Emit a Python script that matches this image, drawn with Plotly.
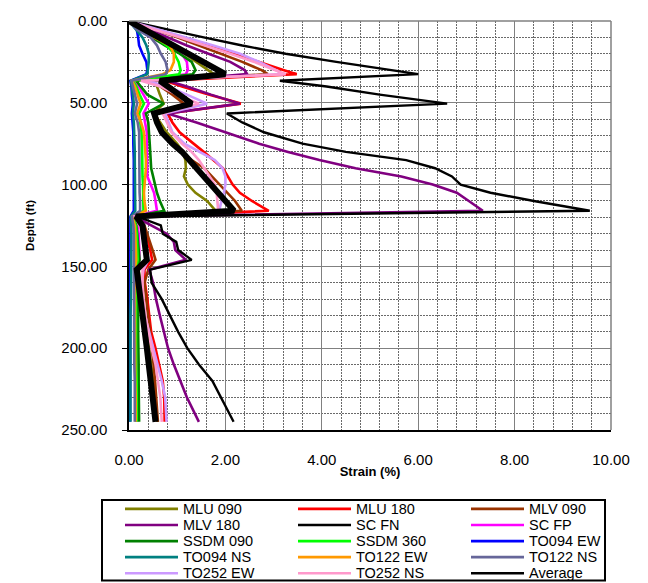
import plotly.graph_objects as go

# Depth below ground surface (ft) at which strain was reported
depth_ft = [0, 5, 10, 15, 20, 25, 30, 32.5,
            36.5, 40, 45, 50.5,
            56.5, 62, 68, 75, 80, 85, 90, 95, 100, 105, 110, 116,
            119.5, 125, 130, 135, 140, 146, 152,
            160, 170, 180, 190, 200, 210, 220, 230, 245]

# Maximum shear strain (%) per ground motion
mlu_090 = [0, 0.3, 0.6, 0.9, 1.15, 1.4, 1.65, 1.76,
           0.48, 0.58, 0.64, 0.72,
           0.5, 0.65, 0.78, 1.0, 1.12, 1.17, 1.18, 1.14, 1.22, 1.38, 1.62, 1.8,
           0.12, 0.25, 0.28, 0.3, 0.32, 0.35, 0.2,
           0.24, 0.28, 0.32, 0.37, 0.42, 0.46, 0.5, 0.54, 0.59]
mlu_180 = [0, 0.55, 1.1, 1.65, 2.2, 2.7, 3.2, 3.48,
           0.75, 1.1, 1.65, 2.32,
           0.8, 0.9, 1.05, 1.35, 1.55, 1.75, 1.95, 2.05, 2.15, 2.3, 2.55, 2.9,
           0.12, 0.28, 0.34, 0.4, 0.44, 0.48, 0.32,
           0.33, 0.38, 0.42, 0.46, 0.55, 0.63, 0.7, 0.73, 0.74]
mlv_090 = [0, 0.5, 1.0, 1.45, 1.9, 2.35, 2.75, 2.88,
           0.45, 0.65, 0.9, 1.14,
           0.55, 0.62, 0.7, 0.95, 1.1, 1.3, 1.56, 1.72, 1.88, 2.05, 2.2, 2.34,
           0.12, 0.32, 0.38, 0.44, 0.49, 0.55, 0.4,
           0.32, 0.36, 0.4, 0.44, 0.47, 0.51, 0.54, 0.57, 0.6]
mlv_180 = [0, 0.4, 0.8, 1.2, 1.65, 2.1, 2.4, 2.45,
           0.8, 1.2, 1.7, 2.3,
           0.8, 1.4, 2.0, 2.7, 3.3, 3.95, 4.7, 5.65, 6.3, 6.8, 7.05, 7.34,
           0.12, 0.45, 0.78, 0.93, 0.96, 1.18, 0.42,
           0.5, 0.56, 0.64, 0.73, 0.81, 0.93, 1.06, 1.2, 1.45]
sc_fn = [0, 0.75, 1.55, 2.35, 3.25, 4.3, 5.5, 6.0,
         3.13, 4.1, 5.2, 6.6,
         2.03, 2.35, 2.8, 3.6, 4.5, 5.75, 6.35, 6.7, 6.88, 7.5, 8.4, 9.56,
         0.17, 0.66, 0.7, 0.98, 1.02, 1.3, 0.44,
         0.47, 0.68, 0.85, 1.02, 1.21, 1.45, 1.73, 1.91, 2.17]
sc_fp = [0, 0.2, 0.45, 0.8, 1.1, 1.2, 1.22, 1.18,
         0.1, 0.2, 0.3, 0.41,
         0.3, 0.34, 0.37, 0.37, 0.37, 0.37, 0.37, 0.38, 0.45, 0.52, 0.55, 0.58,
         0.1, 0.18, 0.2, 0.21, 0.22, 0.22, 0.15,
         0.15, 0.15, 0.16, 0.16, 0.16, 0.17, 0.17, 0.17, 0.17]
ssdm_090 = [0, 0.22, 0.48, 0.75, 1.05, 1.3, 1.38, 1.32,
            0.15, 0.25, 0.38, 0.72,
            0.35, 0.4, 0.42, 0.43, 0.44, 0.45, 0.46, 0.5, 0.54, 0.58, 0.64, 0.73,
            0.1, 0.15, 0.17, 0.19, 0.2, 0.22, 0.17,
            0.18, 0.18, 0.19, 0.19, 0.2, 0.2, 0.2, 0.21, 0.21]
ssdm_360 = [0, 0.18, 0.55, 0.78, 0.94, 1.03, 1.07, 1.04,
            0.08, 0.15, 0.22, 0.31,
            0.21, 0.24, 0.26, 0.27, 0.27, 0.28, 0.28, 0.28, 0.29, 0.29, 0.3, 0.3,
            0.08, 0.14, 0.16, 0.17, 0.17, 0.18, 0.14,
            0.14, 0.14, 0.15, 0.15, 0.15, 0.15, 0.16, 0.16, 0.16]
to094_ew = [0, 0.16, 0.19, 0.21, 0.28, 0.36, 0.38, 0.36,
            0.03, 0.05, 0.06, 0.08,
            0.06, 0.08, 0.09, 0.09, 0.1, 0.1, 0.1, 0.1, 0.1, 0.1, 0.1, 0.1,
            0.03, 0.03, 0.03, 0.03, 0.03, 0.03, 0.02,
            0.02, 0.02, 0.02, 0.02, 0.02, 0.02, 0.02, 0.02, 0.02]
to094_ns = [0, 0.15, 0.28, 0.36, 0.41, 0.41, 0.4, 0.38,
            0.04, 0.06, 0.08, 0.1,
            0.08, 0.1, 0.11, 0.12, 0.12, 0.12, 0.12, 0.12, 0.12, 0.12, 0.12, 0.13,
            0.04, 0.05, 0.05, 0.05, 0.05, 0.05, 0.04,
            0.04, 0.04, 0.03, 0.03, 0.03, 0.03, 0.03, 0.03, 0.03]
to122_ew = [0, 0.25, 0.52, 0.85, 0.93, 0.93, 0.86, 0.7,
            0.06, 0.12, 0.18, 0.24,
            0.17, 0.25, 0.31, 0.33, 0.34, 0.35, 0.35, 0.34, 0.32, 0.31, 0.32, 0.35,
            0.07, 0.12, 0.13, 0.14, 0.14, 0.15, 0.12,
            0.12, 0.12, 0.12, 0.13, 0.13, 0.13, 0.13, 0.14, 0.14]
to122_ns = [0, 0.15, 0.45, 0.58, 0.66, 0.76, 0.8, 0.76,
            0.05, 0.08, 0.12, 0.17,
            0.12, 0.18, 0.21, 0.21, 0.22, 0.22, 0.22, 0.22, 0.22, 0.22, 0.23, 0.23,
            0.06, 0.09, 0.1, 0.1, 0.1, 0.11, 0.1,
            0.1, 0.1, 0.11, 0.11, 0.11, 0.11, 0.12, 0.12, 0.12]
to252_ew = [0, 0.6, 1.2, 1.75, 2.3, 2.7, 3.05, 3.2,
            0.35, 0.8, 1.2, 1.62,
            0.75, 0.82, 0.9, 1.15, 1.45, 1.78, 1.94, 2.0, 2.0, 1.97, 1.92, 1.87,
            0.12, 0.25, 0.3, 0.34, 0.37, 0.4, 0.3,
            0.27, 0.29, 0.33, 0.42, 0.5, 0.6, 0.68, 0.75, 0.78]
to252_ns = [0, 0.5, 1.05, 1.6, 2.1, 2.6, 3.05, 3.25,
            0.25, 0.65, 1.0, 1.45,
            0.7, 0.78, 0.88, 1.1, 1.3, 1.45, 1.56, 1.68, 1.78, 1.82, 1.84, 1.85,
            0.12, 0.22, 0.27, 0.31, 0.34, 0.38, 0.28,
            0.28, 0.3, 0.34, 0.4, 0.47, 0.55, 0.6, 0.65, 0.68]
average = [0, 0.3, 0.6, 0.9, 1.2, 1.5, 1.8, 2.0,
           0.64, 0.8, 1.08, 1.3,
           0.52, 0.58, 0.68, 0.9, 1.1, 1.25, 1.42, 1.58, 1.72, 1.86, 2.0, 2.18,
           0.15, 0.28, 0.3, 0.33, 0.34, 0.37, 0.16,
           0.2, 0.25, 0.29, 0.33, 0.37, 0.41, 0.45, 0.49, 0.55]

series_names = ["MLU 090", "MLU 180", "MLV 090", "MLV 180", "SC FN", "SC FP",
                "SSDM 090", "SSDM 360", "TO094 EW", "TO094 NS", "TO122 EW",
                "TO122 NS", "TO252 EW", "TO252 NS", "Average"]
series_values = [mlu_090, mlu_180, mlv_090, mlv_180, sc_fn, sc_fp,
                 ssdm_090, ssdm_360, to094_ew, to094_ns, to122_ew,
                 to122_ns, to252_ew, to252_ns, average]
series_colors = ["#808000", "#FF0000", "#993300", "#800080", "#000000", "#FF00FF",
                 "#008000", "#00FF00", "#0000FF", "#008080", "#FF9900",
                 "#666699", "#CC99FF", "#FF99CC", "#000000"]
series_widths = [2.6, 2.6, 2.6, 2.6, 2.4, 2.6, 2.6, 2.6, 2.6, 2.6, 2.6,
                 2.6, 2.6, 2.6, 6]

x_ticks = [0, 2, 4, 6, 8, 10]
y_ticks = [0, 50, 100, 150, 200, 250]

FONT = "Liberation Sans, Arial, sans-serif"

fig = go.Figure()
for name, vals, col, w in zip(series_names, series_values, series_colors, series_widths):
    fig.add_trace(go.Scatter(x=vals, y=depth_ft, mode="lines", name=name,
                             line=dict(color=col, width=w), showlegend=False))

W, H = 648, 583
ML, MR, MT, MB = 129, 37, 18, 153
pw, ph = W - ML - MR, H - MT - MB


def px_x(px):
    return (px - ML) / pw


def px_y(py):
    return (H - MB - py) / ph


shapes = [
    # plot-area frame on the top and right sides
    dict(type="line", xref="paper", yref="paper", x0=0, x1=1, y0=1, y1=1,
         line=dict(color="#808080", width=1.5), layer="above"),
    dict(type="line", xref="paper", yref="paper", x0=1, x1=1, y0=0, y1=1,
         line=dict(color="#808080", width=1.5), layer="above"),
    # legend box
    dict(type="rect", xref="paper", yref="paper",
         x0=px_x(102), x1=px_x(605), y0=px_y(581.5), y1=px_y(500.5),
         line=dict(color="#000000", width=2), fillcolor="rgba(0,0,0,0)"),
]
annotations = []

# three-column legend, filled row by row
col_x = [125, 298, 471]
row_y0, row_dy = 509.5, 16.2
for i, (name, col) in enumerate(zip(series_names, series_colors)):
    r, c = divmod(i, 3)
    yy = px_y(row_y0 + r * row_dy)
    x0 = col_x[c]
    shapes.append(dict(type="line", xref="paper", yref="paper",
                       x0=px_x(x0), x1=px_x(x0 + 53), y0=yy, y1=yy,
                       line=dict(color=col, width=2.6)))
    annotations.append(dict(xref="paper", yref="paper", x=px_x(x0 + 56), y=yy,
                            text=name, showarrow=False, xanchor="left",
                            yanchor="middle",
                            font=dict(family=FONT, size=14.5, color="#000000")))

fig.update_layout(
    width=W, height=H,
    margin=dict(l=ML, r=MR, t=MT, b=MB, pad=0),
    paper_bgcolor="white", plot_bgcolor="white",
    font=dict(family=FONT, color="#000000"),
    showlegend=False,
    shapes=shapes,
    annotations=annotations,
    xaxis=dict(
        range=[0, 10], tickvals=x_ticks, tickformat=".2f",
        showline=True, linecolor="#000000", linewidth=1.5,
        showgrid=True, gridcolor="#808080", gridwidth=1,
        minor=dict(dtick=0.4, tick0=0, showgrid=True, gridcolor="#6a6a6a",
                   griddash="2px,1px", gridwidth=1),
        ticks="", ticklabelstandoff=15,
        tickfont=dict(size=15),
        zeroline=False,
        title=dict(text="<b>Strain (%)</b>", font=dict(size=13), standoff=0),
    ),
    yaxis=dict(
        range=[250, 0], tickvals=y_ticks, tickformat=".2f",
        showline=True, linecolor="#000000", linewidth=1.5,
        showgrid=True, gridcolor="#808080", gridwidth=1,
        minor=dict(dtick=10, tick0=0, showgrid=True, gridcolor="#6a6a6a",
                   griddash="2px,1px", gridwidth=1),
        ticks="outside", ticklen=5, tickcolor="#000000",
        ticklabelstandoff=12,
        tickfont=dict(size=15),
        zeroline=False,
        title=dict(text="<b>Depth (ft)</b>", font=dict(size=11.5), standoff=24),
    ),
)

fig.write_html("out.html")
